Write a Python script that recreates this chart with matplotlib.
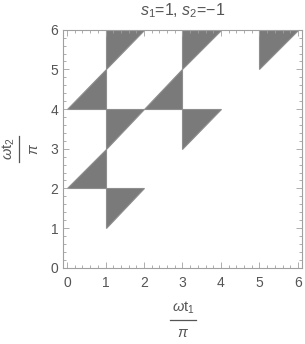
import matplotlib
matplotlib.use("Agg")
import matplotlib.pyplot as plt
from matplotlib.patches import Polygon
from matplotlib.lines import Line2D
from matplotlib.ticker import MultipleLocator

plt.rcParams['font.family'] = ['Liberation Sans', 'DejaVu Sans']
plt.rcParams['mathtext.fontset'] = 'custom'
plt.rcParams['mathtext.rm'] = 'Liberation Sans'
plt.rcParams['mathtext.it'] = 'Liberation Sans:italic'

# lower-left corner of each unit cell holding a triangle
# "upper" = left edge + top edge filled, "lower" = bottom edge + right edge filled
upper_x = [1, 1, 1, 3, 3, 5]
upper_y = [1, 3, 5, 3, 5, 5]
lower_x = [0, 0, 2]
lower_y = [2, 4, 4]
ticks = [0, 1, 2, 3, 4, 5, 6]

txt = '#555555'
frame = '#a0a0a0'
fill = '#7a7a7a'

fig = plt.figure(figsize=(3.05, 3.44), dpi=100)
ax = fig.add_axes([63/305, 1 - 267.7/344, 239/305, 238/344])

for x0, y0 in zip(upper_x, upper_y):
    ax.add_patch(Polygon([(x0, y0), (x0, y0 + 1), (x0 + 1, y0 + 1)],
                         facecolor=fill, edgecolor='#8e8e8e', lw=0.8))
for x0, y0 in zip(lower_x, lower_y):
    ax.add_patch(Polygon([(x0, y0), (x0 + 1, y0), (x0 + 1, y0 + 1)],
                         facecolor=fill, edgecolor='#8e8e8e', lw=0.8))

ax.set_xlim(-0.105, 6.105)
ax.set_ylim(0, 6)
ax.set_xticks(ticks)
ax.set_yticks(ticks)
ax.xaxis.set_minor_locator(MultipleLocator(0.2))
ax.yaxis.set_minor_locator(MultipleLocator(0.2))
for s in ax.spines.values():
    s.set_color(frame)
    s.set_linewidth(0.8)
ax.tick_params(which='both', direction='in', top=True, right=True,
               color=frame, width=0.6, labelcolor=txt, labelsize=10)
ax.tick_params(which='major', length=4)
ax.tick_params(which='minor', length=2)
ax.tick_params(axis='x', pad=6)
ax.tick_params(axis='y', pad=3.5)

fig.text(183/305, 1 - 11/344, r'$s_1$=1, $s_2$=$-$1', ha='center', va='center',
         color=txt, fontsize=11.5)

# x label as a stacked fraction
fig.text(183/305, 1 - 308/344, r'$\omega$t$_1$', ha='center', va='center',
         color=txt, fontsize=10.5)
fig.add_artist(Line2D([170/305, 196/305], [1 - 320/344, 1 - 320/344],
                      color=txt, lw=0.9))
fig.text(183/305, 1 - 333/344, r'$\pi$', ha='center', va='center',
         color=txt, fontsize=10.5)

# y label as a rotated stacked fraction
fig.text(9/305, 1 - 149/344, r'$\omega$t$_2$', ha='center', va='center',
         color=txt, fontsize=10.5, rotation=90)
fig.add_artist(Line2D([19/305, 19/305], [1 - 136/344, 1 - 162/344],
                      color=txt, lw=0.9))
fig.text(34/305, 1 - 149/344, r'$\pi$', ha='center', va='center',
         color=txt, fontsize=10.5, rotation=90)

fig.savefig('out.png', dpi=100)
